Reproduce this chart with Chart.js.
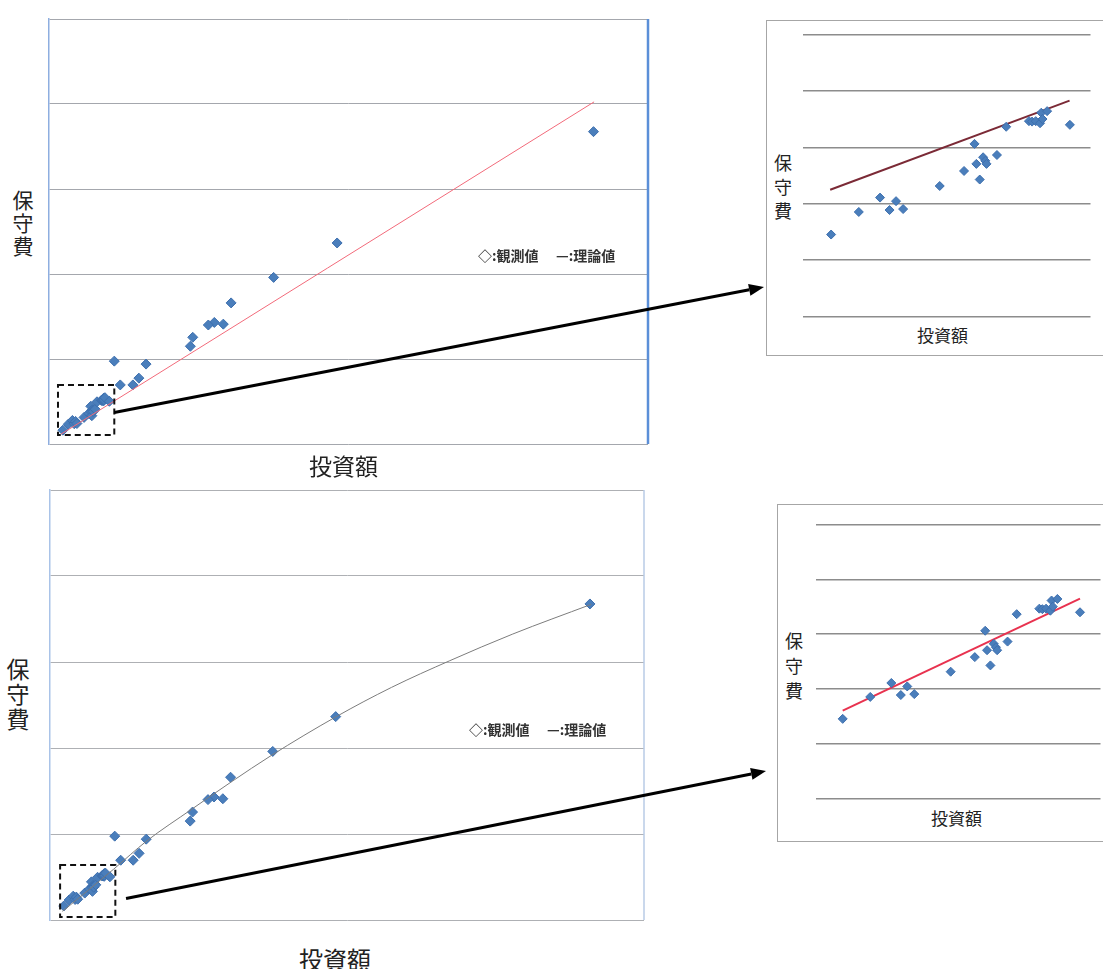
<!DOCTYPE html>
<html>
<head>
<meta charset="utf-8">
<script src="https://cdn.jsdelivr.net/npm/chart.js@4.4.1/dist/chart.umd.min.js"></script>
<style>
    body { margin: 0; width: 1103px; height: 969px; overflow: hidden; background: #fff; position: relative;
           font-family: "Noto Sans CJK JP", sans-serif; }
    .plot { position: absolute; }
    .plot canvas { display: block; }
    .frame { position: absolute; border: 1px solid #a6a6a6; border-right: none; }
    .lbl { position: absolute; color: #222; line-height: 1; white-space: nowrap; }
    .vert { writing-mode: vertical-rl; text-orientation: upright; }
    .note { position: absolute; font-size: 14px; font-weight: bold; color: #333; line-height: 1; white-space: nowrap; }
    #overlay { position: absolute; left: 0; top: 0; z-index: 10; pointer-events: none; }
</style>
</head>
<body>

<!-- inset frames -->
<div class="frame" style="left:766px;top:20px;width:345px;height:334px;"></div>
<div class="frame" style="left:777px;top:504px;width:335px;height:336px;"></div>

<div class="plot" id="wrapTopMain"><canvas id="topMain"></canvas></div>
<div class="plot" id="wrapBotMain"><canvas id="botMain"></canvas></div>
<div class="plot" id="wrapTopInset"><canvas id="topInset"></canvas></div>
<div class="plot" id="wrapBotInset"><canvas id="botInset"></canvas></div>

<!-- axis titles -->
<div class="lbl vert" style="left:12px;top:190px;font-size:21px;letter-spacing:2px;">保守費</div>
<div class="lbl" style="left:309px;top:454px;font-size:23px;">投資額</div>
<div class="lbl vert" style="left:6px;top:658px;font-size:23px;letter-spacing:2px;">保守費</div>
<div class="lbl" style="left:299px;top:947px;font-size:24px;">投資額</div>

<div class="lbl vert" style="left:774px;top:154px;font-size:18px;letter-spacing:6px;">保守費</div>
<div class="lbl" style="left:917px;top:326px;font-size:17px;">投資額</div>
<div class="lbl vert" style="left:785px;top:632px;font-size:18px;letter-spacing:7px;">保守費</div>
<div class="lbl" style="left:931px;top:809px;font-size:17px;">投資額</div>

<!-- in-chart notes -->
<div class="note" style="left:478px;top:248px;">◇:観測値</div>
<div class="note" style="left:556px;top:248px;">—:理論値</div>
<div class="note" style="left:469px;top:722px;">◇:観測値</div>
<div class="note" style="left:547px;top:722px;">—:理論値</div>

<canvas id="overlay" width="1103" height="969"></canvas>

<script>
// observed values (investment amount vs maintenance cost), arbitrary units
const obsX = [90.9, 48.1, 37.5, 30.4, 29.1, 27.6, 26.6, 24.0, 23.6, 16.2, 10.9, 15.0, 14.0, 11.9];
const obsY = [73.5, 47.3, 39.2, 33.2, 28.2, 28.6, 28.0, 25.1, 23.0, 18.8, 19.5, 15.5, 13.9, 13.9];

// small observations (inside the dashed box, enlarged in the insets)
const smallX = [2.32, 3.22, 3.91, 4.22, 4.43, 4.66, 5.85, 6.64, 6.98, 7.04, 7.15, 7.26,
                7.33, 7.37, 7.71, 8.01, 8.75, 8.85, 8.97, 9.11, 9.15, 9.19, 9.34, 10.08];
const smallY = [3.25, 4.65, 5.54, 4.77, 5.32, 4.83, 6.26, 7.19, 8.87, 7.63, 6.66, 8.04,
                7.82, 7.63, 8.18, 9.93, 10.28, 10.25, 10.28, 10.15, 10.80, 10.41, 10.90, 10.05];

// theoretical value, linear model (top)
const linX = [2.0, 91.0];
const linY = [2.3, 80.5];

// theoretical value, non-linear model (bottom)
const curveX = [2.1, 10.7, 16.3, 23.8, 30.5, 37.3, 48.2, 57.5, 67.3, 77.9, 91.1];
const curveY = [2.0, 11.8, 18.4, 25.7, 32.1, 38.3, 47.3, 54.1, 60.3, 66.5, 73.4];

// theoretical lines shown in the enlarged insets
const topInsetLineX = [2.29, 10.07];
const topInsetLineY = [6.03, 11.55];
const botInsetLineX = [2.32, 10.08];
const botInsetLineY = [3.77, 10.92];

const MARKER = '#4a7ebb';

// plot areas on the page
const AREAS = {
    topMain:  { l: 46,  t: 16,  r: 651,  b: 447 },
    botMain:  { l: 47,  t: 487, r: 647,  b: 923 },
    topInset: { l: 800, t: 32,  r: 1093, b: 319 },
    botInset: { l: 813, t: 522, r: 1103, b: 801 }
};
const PAD = 3;

function pts(xs, ys) {
    return xs.map((x, i) => ({ x: x, y: ys[i] }));
}

function place(id, a) {
    const w = document.getElementById(id);
    w.style.left = (a.l - PAD) + 'px';
    w.style.top = (a.t - PAD) + 'px';
    w.style.width = (a.r - a.l + 2 * PAD) + 'px';
    w.style.height = (a.b - a.t + 2 * PAD) + 'px';
}

// right edge line of the plot area
const edgePlugin = {
    id: 'edges',
    afterDraw(chart, args, opts) {
        const { ctx, chartArea: ca } = chart;
        ctx.save();
        if (opts.right) {
            ctx.strokeStyle = opts.right.color;
            ctx.lineWidth = opts.right.width;
            ctx.beginPath();
            ctx.moveTo(ca.right, ca.top);
            ctx.lineTo(ca.right, ca.bottom);
            ctx.stroke();
        }
        ctx.restore();
    }
};

// dashed box around the small observations
const boxPlugin = {
    id: 'zoomBox',
    afterDatasetsDraw(chart, args, opts) {
        if (!opts.x) return;
        const { ctx, scales } = chart;
        const x0 = scales.x.getPixelForValue(opts.x[0]);
        const x1 = scales.x.getPixelForValue(opts.x[1]);
        const y0 = scales.y.getPixelForValue(opts.y[0]);
        const y1 = scales.y.getPixelForValue(opts.y[1]);
        ctx.save();
        ctx.strokeStyle = '#111';
        ctx.lineWidth = 2;
        ctx.setLineDash([6, 4]);
        ctx.strokeRect(x0, y1, x1 - x0, y0 - y1);
        ctx.restore();
    }
};

function mainOptions(gridColor, leftColor, rightEdge, box) {
    return {
        responsive: true,
        maintainAspectRatio: false,
        animation: false,
        layout: { padding: PAD },
        plugins: {
            legend: { display: false },
            tooltip: { enabled: false },
            edges: { right: rightEdge },
            zoomBox: box
        },
        scales: {
            x: {
                type: 'linear', min: 0, max: 100,
                ticks: { display: false },
                grid: { display: false },
                border: { display: false },
                afterFit: s => { s.height = 0; }
            },
            y: {
                type: 'linear', min: 0, max: 100,
                ticks: { display: false, stepSize: 20 },
                grid: { color: gridColor, lineWidth: 1, drawTicks: false },
                border: { display: true, color: leftColor, width: 1.5 },
                afterFit: s => { s.width = 0; }
            }
        }
    };
}

function insetOptions(xMin, xMax) {
    const yMin = -1.83, yMax = 15.65;
    return {
        responsive: true,
        maintainAspectRatio: false,
        animation: false,
        layout: { padding: PAD },
        plugins: { legend: { display: false }, tooltip: { enabled: false } },
        scales: {
            x: {
                type: 'linear', min: xMin, max: xMax,
                ticks: { display: false },
                grid: { display: false },
                border: { display: false },
                afterFit: s => { s.height = 0; }
            },
            y: {
                type: 'linear', min: yMin, max: yMax,
                ticks: { display: false },
                grid: { color: '#8c8c8c', lineWidth: 1.5, drawTicks: false },
                border: { display: false },
                afterFit: s => { s.width = 0; },
                afterBuildTicks: s => {
                    const step = (yMax - yMin) / 5;
                    s.ticks = [0, 1, 2, 3, 4, 5].map(k => ({ value: yMin + k * step }));
                }
            }
        }
    };
}

function obsDataset(data, r) {
    return {
        label: '観測値',
        data: data,
        pointStyle: 'rectRot',
        pointRadius: r,
        backgroundColor: MARKER,
        borderColor: '#3d6fae',
        borderWidth: 1,
        showLine: false
    };
}

function lineDataset(data, color, width, smooth) {
    return {
        label: '理論値',
        data: data,
        showLine: true,
        borderColor: color,
        borderWidth: width,
        pointRadius: 0,
        fill: false,
        tension: smooth ? 0.4 : 0,
        cubicInterpolationMode: smooth ? 'monotone' : 'default'
    };
}

Object.keys(AREAS).forEach(k => place('wrap' + k[0].toUpperCase() + k.slice(1), AREAS[k]));

const allObs = pts(obsX, obsY).concat(pts(smallX, smallY));

const BOX_TOP = { x: [1.5, 10.9], y: [2.1, 13.9] };
const BOX_BOT = { x: [1.7, 11.0], y: [0.7, 12.8] };

const charts = {};

charts.topMain = new Chart(document.getElementById('topMain'), {
    type: 'scatter',
    data: {
        datasets: [
            lineDataset(pts(linX, linY), '#f26a7a', 1, false),
            obsDataset(allObs, 5)
        ]
    },
    options: mainOptions('#a4a7ad', '#8eaee0', { color: '#5b8fd8', width: 2.5 }, BOX_TOP),
    plugins: [edgePlugin, boxPlugin]
});

charts.botMain = new Chart(document.getElementById('botMain'), {
    type: 'scatter',
    data: {
        datasets: [
            lineDataset(pts(curveX, curveY), '#7c7c7c', 1, true),
            obsDataset(allObs, 5)
        ]
    },
    options: mainOptions('#aeb0b4', '#a9c3e8', { color: '#b9cbe6', width: 1.5 }, BOX_BOT),
    plugins: [edgePlugin, boxPlugin]
});

charts.topInset = new Chart(document.getElementById('topInset'), {
    type: 'scatter',
    data: {
        datasets: [
            obsDataset(pts(smallX, smallY), 4.5),
            lineDataset(pts(topInsetLineX, topInsetLineY), '#7b2a36', 2, false)
        ]
    },
    options: insetOptions(1.39, 10.75)
});

charts.botInset = new Chart(document.getElementById('botInset'), {
    type: 'scatter',
    data: {
        datasets: [
            obsDataset(pts(smallX, smallY), 4.5),
            lineDataset(pts(botInsetLineX, botInsetLineY), '#e8324f', 2, false)
        ]
    },
    options: insetOptions(1.43, 10.75)
});

// arrows from the dashed boxes to the insets
const ARROWS = [
    { chart: 'topMain', wrap: 'wrapTopMain', from: { x: 10.9, y: 7.4 }, to: [764, 287] },
    { chart: 'botMain', wrap: 'wrapBotMain', from: { x: 12.8, y: 5.0 }, to: [766, 771] }
];

function drawArrows() {
    const ctx = document.getElementById('overlay').getContext('2d');
    ctx.clearRect(0, 0, 1103, 969);
    ARROWS.forEach(a => {
        const ch = charts[a.chart];
        const w = document.getElementById(a.wrap);
        const sx = w.offsetLeft + ch.scales.x.getPixelForValue(a.from.x);
        const sy = w.offsetTop + ch.scales.y.getPixelForValue(a.from.y);
        const [ex, ey] = a.to;
        const ang = Math.atan2(ey - sy, ex - sx);
        const headLen = 15, headW = 6;
        const bx = ex - headLen * Math.cos(ang), by = ey - headLen * Math.sin(ang);
        ctx.strokeStyle = '#000';
        ctx.lineWidth = 3;
        ctx.beginPath();
        ctx.moveTo(sx, sy);
        ctx.lineTo(bx, by);
        ctx.stroke();
        ctx.fillStyle = '#000';
        ctx.beginPath();
        ctx.moveTo(ex, ey);
        ctx.lineTo(bx + headW * Math.sin(ang), by - headW * Math.cos(ang));
        ctx.lineTo(bx - headW * Math.sin(ang), by + headW * Math.cos(ang));
        ctx.closePath();
        ctx.fill();
    });
}
drawArrows();
</script>
</body>
</html>
